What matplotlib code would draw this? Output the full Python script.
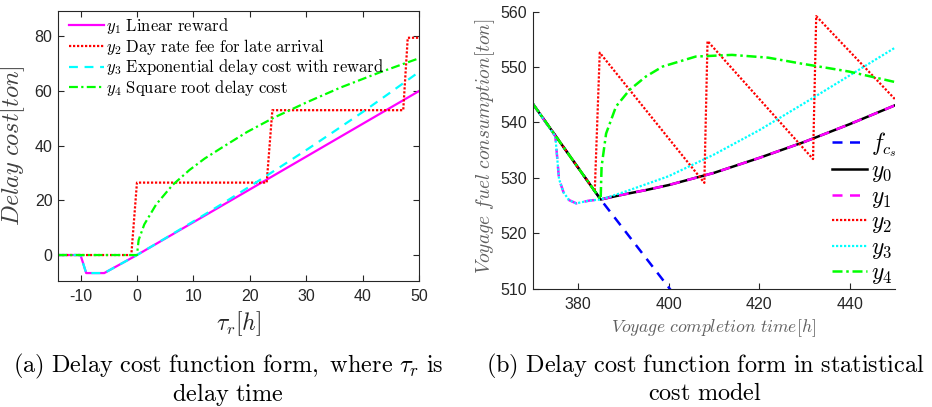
import matplotlib
matplotlib.use("Agg")
import matplotlib.pyplot as plt

plt.rcParams["mathtext.fontset"] = "cm"
plt.rcParams["font.family"] = ["Liberation Sans", "DejaVu Sans"]
plt.rcParams["axes.unicode_minus"] = False

# ---------------- (a) delay cost functions ----------------
tau_y1 = [-14, -10, -9, -5.8, 0, 50]
y1 = [0, 0, -6.6, -6.6, 0, 60]

tau_y2 = [-14, -1, 0, 23, 24, 47.2, 48, 50]
y2 = [0, 0, 26.5, 26.5, 53, 53, 79.5, 79.5]

tau_y3 = [-14, -10, -9, -5.8, 0, 5, 10, 15, 20, 25, 30, 35, 40, 45, 50]
y3 = [0, 0, -6.6, -6.6, 0, 6.1, 12.3, 18.6, 25.1, 31.7, 38.4, 45.3, 52.3, 59.6, 67.0]

tau_y4 = [-14, 0, 0.3, 1.3, 3.4, 6.3, 9.3, 12, 15.2, 19.5, 24.3, 30, 36.1, 43, 50]
y4 = [0, 0, 5.5, 11.2, 18.5, 25.6, 31.1, 35.3, 39.5, 45.0, 50.3, 55.8, 61.3, 66.8, 72.0]

labels_a = [r"$y_1\ \mathrm{Linear\ reward}$",
            r"$y_2\ \mathrm{Day\ rate\ fee\ for\ late\ arrival}$",
            r"$y_3\ \mathrm{Exponential\ delay\ cost\ with\ reward}$",
            r"$y_4\ \mathrm{Square\ root\ delay\ cost}$"]
xticks_a = [-10, 0, 10, 20, 30, 40, 50]
yticks_a = [0, 20, 40, 60, 80]

# ---------------- (b) statistical cost model ----------------
t_fcs = [370, 385, 401]
f_cs = [543.4, 526.1, 509.2]

t_y0 = [370, 385, 390, 395, 400, 410, 420, 430, 440, 450]
v_y0 = [543.4, 526.1, 527.0, 527.8, 528.7, 530.9, 533.6, 536.5, 539.7, 543.1]

t_y1 = [370, 375, 375.8, 376.8, 378, 379.6, 382.5, 385, 390, 395, 400, 410, 420, 430, 440, 450]
v_y1 = [543.4, 537.5, 529.8, 527.4, 526.0, 525.4, 525.9, 526.1, 527.0, 527.8, 528.7, 530.9,
        533.6, 536.5, 539.7, 543.1]

t_y2 = [370, 383.7, 384.8, 407.9, 408.6, 431.9, 432.6, 450]
v_y2 = [543.4, 527.6, 552.6, 529.1, 554.7, 533.4, 559.2, 544.2]

t_y3 = [370, 375, 375.8, 376.8, 378, 379.6, 382.5, 385, 390, 400, 410, 420, 430, 440, 450]
v_y3 = [543.4, 537.5, 529.8, 527.4, 526.0, 525.4, 525.9, 526.1, 527.4, 530.3, 534.2, 538.6,
        543.5, 548.5, 553.5]

t_y4 = [370, 385, 385.2, 386.2, 388.4, 391.4, 395, 398.7, 406, 414, 422, 428.8, 439.8, 450]
v_y4 = [543.4, 526.1, 532.0, 538.0, 542.9, 545.9, 548.3, 550.1, 551.9, 552.2, 551.7, 550.7,
        549.2, 547.3]

labels_b = [r"$f_{c_s}$", r"$y_0$", r"$y_1$", r"$y_2$", r"$y_3$", r"$y_4$"]
xticks_b = [380, 400, 420, 440]
yticks_b = [510, 520, 530, 540, 550, 560]

AX_COLOR = "#262626"

fig = plt.figure(figsize=(9.32, 4.07), dpi=100)

def style_axes(ax, box):
    for side in ["left", "bottom", "top", "right"]:
        ax.spines[side].set_color(AX_COLOR)
        ax.spines[side].set_linewidth(0.8)
    if not box:
        ax.spines["top"].set_visible(False)
        ax.spines["right"].set_visible(False)
    ax.tick_params(direction="in", length=4, width=0.8, colors=AX_COLOR,
                   labelsize=11.5, top=box, right=box)
    ax.tick_params(axis="x", pad=6)
    ax.tick_params(axis="y", pad=4)

# Panel (a)
ax1 = fig.add_axes([0.0622, 0.3096, 0.3874, 0.6634])
ax1.plot(tau_y1, y1, color="#FF00FF", lw=1.6, label=labels_a[0])
ax1.plot(tau_y2, y2, color="#FF0000", lw=1.6, ls=(0, (1, 0.8)), label=labels_a[1])
ax1.plot(tau_y3, y3, color="#00FFFF", lw=1.6, ls=(0, (4, 3)), label=labels_a[2])
ax1.plot(tau_y4, y4, color="#00FF00", lw=1.6, ls=(0, (4, 1.5, 1, 1.5)), label=labels_a[3])
ax1.set_xlim(-14, 50)
ax1.set_ylim(-9.5, 89.3)
ax1.set_xticks(xticks_a)
ax1.set_yticks(yticks_a)
style_axes(ax1, True)
ax1.set_xlabel(r"$\tau_r[h]$", fontsize=17, color=AX_COLOR)
ax1.xaxis.set_label_coords(0.5, -0.105)
ax1.set_ylabel(r"$Delay\ cost[ton]$", fontsize=17.5, color="#404040")
ax1.yaxis.set_label_coords(-0.085, 0.5)
ax1.legend(loc="upper left", bbox_to_anchor=(0.02, 0.995), frameon=False,
           fontsize=12, handlelength=2.1, handletextpad=0.15,
           labelspacing=0.05, borderpad=0.2, borderaxespad=0)

# Panel (b)
ax2 = fig.add_axes([0.5716, 0.2907, 0.3887, 0.6806])
ax2.plot(t_fcs, f_cs, color="#0000FF", lw=1.8, ls=(0, (4, 3)), label=labels_b[0])
ax2.plot(t_y0, v_y0, color="black", lw=1.8, label=labels_b[1])
ax2.plot(t_y1, v_y1, color="#FF00FF", lw=1.8, ls=(0, (4, 3)), label=labels_b[2])
ax2.plot(t_y2, v_y2, color="#FF0000", lw=1.6, ls=(0, (1, 0.8)), label=labels_b[3])
ax2.plot(t_y3, v_y3, color="#00FFFF", lw=1.6, ls=(0, (1, 0.8)), label=labels_b[4])
ax2.plot(t_y4, v_y4, color="#00FF00", lw=1.8, ls=(0, (4, 1.5, 1, 1.5)), label=labels_b[5])
ax2.set_xlim(370, 450)
ax2.set_ylim(510, 560)
ax2.set_xticks(xticks_b)
ax2.set_yticks(yticks_b)
style_axes(ax2, False)
ax2.set_xlabel(r"$Voyage\ completion\ time[h]$", fontsize=12.7, color="#606060")
ax2.xaxis.set_label_coords(0.5, -0.102)
ax2.set_ylabel(r"$Voyage\ fuel\ consumption[ton]$", fontsize=14, color="#606060")
ax2.yaxis.set_label_coords(-0.1, 0.515)
ax2.legend(loc="upper left", bbox_to_anchor=(0.827, 0.573), frameon=False,
           fontsize=17, handlelength=1.45, handletextpad=0.2,
           labelspacing=0.065, borderpad=0, borderaxespad=0)

# Sub-figure captions
cap_kw = dict(ha="center", va="center", fontsize=17.5, color="black")
fig.text(228 / 932, 1 - 366 / 407,
         r"$\mathrm{(a)\ Delay\ cost\ function\ form,\ where\ }\tau_r\mathrm{\ is}$", **cap_kw)
fig.text(228 / 932, 1 - 394 / 407, r"$\mathrm{delay\ time}$", **cap_kw)
fig.text(705 / 932, 1 - 366 / 407,
         r"$\mathrm{(b)\ Delay\ cost\ function\ form\ in\ statistical}$", **cap_kw)
fig.text(705 / 932, 1 - 394 / 407, r"$\mathrm{cost\ model}$", **cap_kw)

fig.savefig("out.png", dpi=100)
